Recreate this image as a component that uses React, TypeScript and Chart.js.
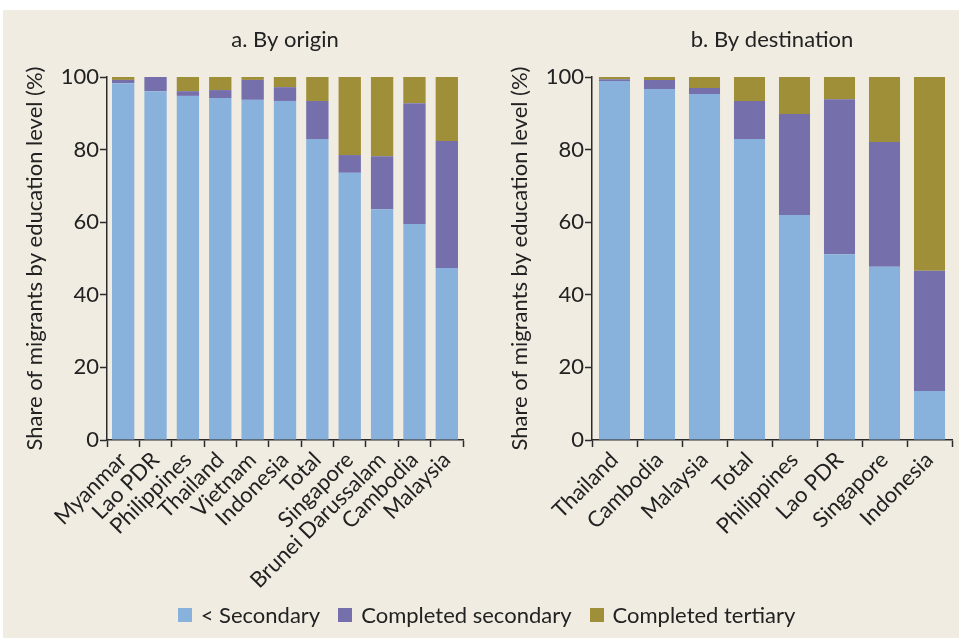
import React, { useEffect, useRef } from 'react';
import { Chart, registerables } from 'chart.js';

Chart.register(...registerables);

// ---------- Data ----------
const originCategories = ['Myanmar', 'Lao PDR', 'Philippines', 'Thailand', 'Vietnam', 'Indonesia', 'Total', 'Singapore', 'Brunei Darussalam', 'Cambodia', 'Malaysia'];
const originBelowSecondary = [98.3, 96.1, 94.8, 94.2, 93.7, 93.4, 82.9, 73.6, 63.6, 59.5, 47.4];
const originCompletedSecondary = [0.9, 3.9, 1.3, 2.2, 5.5, 3.8, 10.5, 4.9, 14.6, 33.3, 35.0];
const originCompletedTertiary = [0.8, 0.0, 3.9, 3.6, 0.8, 2.8, 6.6, 21.5, 21.8, 7.2, 17.6];

const destCategories = ['Thailand', 'Cambodia', 'Malaysia', 'Total', 'Philippines', 'Lao PDR', 'Singapore', 'Indonesia'];
const destBelowSecondary = [98.9, 96.7, 95.3, 82.9, 62.0, 51.2, 47.7, 13.5];
const destCompletedSecondary = [0.5, 2.5, 1.7, 10.5, 27.8, 42.7, 34.4, 33.1];
const destCompletedTertiary = [0.6, 0.8, 3.0, 6.6, 10.2, 6.1, 17.9, 53.4];

const seriesNames = ['< Secondary', 'Completed secondary', 'Completed tertiary'];
const yTicks = [0, 20, 40, 60, 80, 100];
const panelTitles = ['a. By origin', 'b. By destination'];
const yAxisTitle = 'Share of migrants by education level (%)';

// ---------- Style ----------
const COLORS = ['#88B1DC', '#756FAB', '#9F8F38'];
const BG = '#F0ECE2';
const TEXT = '#222222';
const AXIS = '#2b2b2b';
const FONT = 'Lato, "Noto Sans", sans-serif';
const FS = 22;

const panelTitlePlugin = {
  id: 'panelTitle',
  afterDraw(chart: any, _args: any, opts: any) {
    const { ctx, chartArea } = chart;
    if (!opts || !opts.text) return;
    ctx.save();
    ctx.font = `${opts.size || 18}px ${FONT}`;
    ctx.fillStyle = TEXT;
    ctx.textAlign = 'center';
    ctx.textBaseline = 'middle';
    ctx.fillText(opts.text, (chartArea.left + chartArea.right) / 2, opts.y);
    ctx.restore();
  },
};

type PanelProps = {
  categories: string[];
  series: number[][];
  title: string;
  left: number;
  top: number;
  width: number;
  height: number;
  target: { left: number; top: number; right: number; bottom: number };
};

function Panel({ categories, series, title, left, top, width, height, target }: PanelProps) {
  const ref = useRef<HTMLCanvasElement | null>(null);
  useEffect(() => {
    if (!ref.current) return;
    const chart = new Chart(ref.current, {
      type: 'bar',
      data: {
        labels: categories,
        datasets: series.map((d, i) => ({
          label: seriesNames[i],
          data: d,
          backgroundColor: COLORS[i],
          borderWidth: 0,
          barPercentage: 0.69,
          categoryPercentage: 1,
        })),
      },
      options: {
        animation: false,
        responsive: false,
        maintainAspectRatio: false,
        layout: { padding: { left: 0, right: 10, top: 60, bottom: 0 } },
        plugins: {
          legend: { display: false },
          tooltip: { enabled: false },
          panelTitle: { text: title, y: 40 - top, size: FS },
        } as any,
        scales: {
          x: {
            stacked: true,
            grid: {
              display: true,
              drawOnChartArea: false,
              drawTicks: true,
              tickLength: 7,
              tickWidth: 1.5,
              color: AXIS,
              offset: true,
            },
            border: { display: true, color: AXIS, width: 1.5 },
            ticks: {
              autoSkip: false,
              maxRotation: 45,
              minRotation: 45,
              padding: 0,
              color: TEXT,
              font: { family: FONT, size: FS },
            },
          },
          y: {
            stacked: true,
            min: 0,
            max: 100,
            afterBuildTicks: (scale: any) => {
              scale.ticks = yTicks.map((v) => ({ value: v }));
            },
            grid: {
              display: true,
              drawOnChartArea: false,
              drawTicks: true,
              tickLength: 7,
              tickWidth: 1.5,
              color: AXIS,
            },
            border: { display: true, color: AXIS, width: 1.5 },
            ticks: {
              padding: 1,
              color: TEXT,
              font: { family: FONT, size: FS },
            },
            title: {
              display: true,
              text: yAxisTitle,
              color: TEXT,
              font: { family: FONT, size: FS },
              padding: { top: 0, bottom: 12 },
            },
          },
        },
      } as any,
      plugins: [panelTitlePlugin],
    });
    // Fit the chart area to the intended plot rectangle.
    for (let k = 0; k < 2; k++) {
      const ca = chart.chartArea;
      const pad = (chart.options as any).layout.padding;
      pad.left += target.left - ca.left;
      pad.top += target.top - ca.top;
      pad.right += ca.right - target.right;
      pad.bottom += ca.bottom - target.bottom;
      chart.update();
    }
    return () => chart.destroy();
  }, []);
  return (
    <canvas
      ref={ref}
      width={width}
      height={height}
      style={{ position: 'absolute', left, top, width, height }}
    />
  );
}

export default function App() {
  return (
    <div style={{ position: 'absolute', left: 0, top: 0, width: 959, height: 638, background: '#ffffff', overflow: 'hidden' }}>
      <div style={{ position: 'absolute', left: 3, top: 10, width: 956, height: 628, background: BG }} />
      <Panel
        categories={originCategories}
        series={[originBelowSecondary, originCompletedSecondary, originCompletedTertiary]}
        title={panelTitles[0]}
        left={3}
        top={10}
        width={487}
        height={600}
        target={{ left: 104, top: 67, right: 460, bottom: 430 }}
      />
      <Panel
        categories={destCategories}
        series={[destBelowSecondary, destCompletedSecondary, destCompletedTertiary]}
        title={panelTitles[1]}
        left={490}
        top={10}
        width={469}
        height={600}
        target={{ left: 102, top: 67, right: 462, bottom: 430 }}
      />
      <div
        style={{
          position: 'absolute',
          left: 0,
          top: 601,
          width: 959,
          display: 'flex',
          justifyContent: 'center',
          alignItems: 'center',
          fontFamily: FONT,
          fontSize: FS,
          color: TEXT,
          paddingLeft: 14,
          boxSizing: 'border-box',
        }}
      >
        {seriesNames.map((name, i) => (
          <div key={name} style={{ display: 'flex', alignItems: 'center', marginRight: i < 2 ? 18 : 0 }}>
            <span style={{ display: 'inline-block', width: 14, height: 14, background: COLORS[i], marginRight: 9 }} />
            <span>{name}</span>
          </div>
        ))}
      </div>
    </div>
  );
}
